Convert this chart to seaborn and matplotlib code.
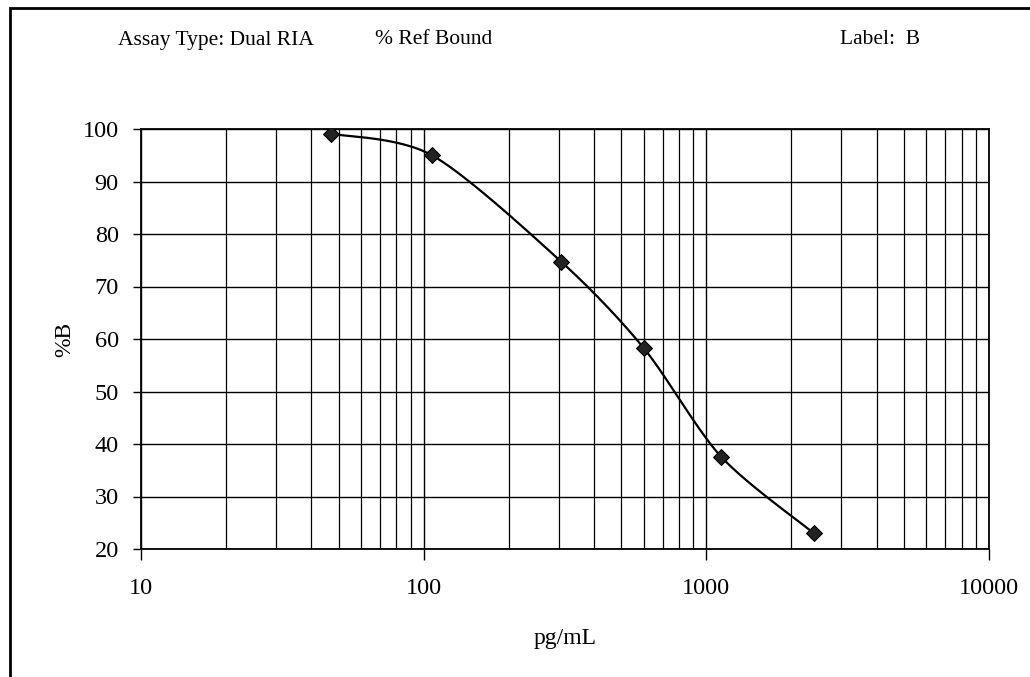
import numpy as np
import pandas as pd
import matplotlib
matplotlib.use("Agg")
import matplotlib.pyplot as plt
from matplotlib.ticker import LogLocator, FixedLocator, NullFormatter, FixedFormatter
from matplotlib.patches import Rectangle
import seaborn as sns

# ---- data ----
conc_pg_ml = [47, 107, 307, 600, 1127, 2400]
pct_bound = [99.1, 95.0, 74.7, 58.3, 37.6, 23.0]
x_tick_values = [10, 100, 1000, 10000]
x_tick_labels = ["10", "100", "1000", "10000"]
y_tick_values = [20, 30, 40, 50, 60, 70, 80, 90, 100]
title_left = "Assay Type: Dual RIA"
title_mid = "% Ref Bound"
title_right = "Label:  B"
x_label = "pg/mL"
y_label = "%B"

sns.set_theme(style="white")
plt.rcParams["font.family"] = ["Liberation Serif", "DejaVu Serif"]

W, H = 1030, 677
fig = plt.figure(figsize=(W / 100, H / 100), dpi=100)
ax = fig.add_axes([141 / W, 1 - 549 / H, (989 - 141) / W, (549 - 129) / H])

# Excel-style smoothed line: cubic Bezier with Catmull-Rom-like control points (log-x space)
lx = np.log10(np.array(conc_pg_ml, dtype=float))
ly = np.array(pct_bound, dtype=float)
P = np.column_stack([lx, ly])
Pe = np.vstack([P[0], P, P[-1]])
curve = []
t = np.linspace(0, 1, 40)[:, None]
k = 1 / 7
for i in range(len(P) - 1):
    p0, p1, p2, p3 = Pe[i], Pe[i + 1], Pe[i + 2], Pe[i + 3]
    c1 = p1 + (p2 - p0) * k
    c2 = p2 - (p3 - p1) * k
    seg = ((1 - t) ** 3) * p1 + 3 * ((1 - t) ** 2) * t * c1 + 3 * (1 - t) * t ** 2 * c2 + t ** 3 * p2
    curve.append(seg if i == 0 else seg[1:])
curve = np.vstack(curve)
smooth = pd.DataFrame({"x": 10 ** curve[:, 0], "y": curve[:, 1]})
pts = pd.DataFrame({"x": conc_pg_ml, "y": pct_bound})

ax.set_xscale("log")
ax.set_xlim(10, 10000)
ax.set_ylim(20, 100)

sns.lineplot(data=smooth, x="x", y="y", ax=ax, color="black", linewidth=1.6,
             sort=False, estimator=None, zorder=3)
sns.scatterplot(data=pts, x="x", y="y", ax=ax, marker="D", s=65, color="#222222",
                edgecolor="black", linewidth=0.8, zorder=4)

# grid
ax.xaxis.set_major_locator(FixedLocator(x_tick_values))
ax.xaxis.set_major_formatter(FixedFormatter(x_tick_labels))
ax.xaxis.set_minor_locator(LogLocator(base=10, subs=np.arange(2, 10)))
ax.xaxis.set_minor_formatter(NullFormatter())
ax.yaxis.set_major_locator(FixedLocator(y_tick_values))
ax.grid(True, which="major", axis="both", color="black", linewidth=1.0)
ax.grid(True, which="minor", axis="x", color="black", linewidth=0.9)
ax.set_axisbelow(True)

for s in ax.spines.values():
    s.set_color("black")
    s.set_linewidth(1.3)
    s.set_visible(True)

ax.tick_params(axis="x", which="major", direction="out", length=8, width=1.0,
               color="black", pad=13, labelsize=17.5, labelcolor="black", bottom=True)
ax.tick_params(axis="x", which="minor", length=0)
ax.tick_params(axis="y", which="major", direction="out", length=6, width=1.0,
               color="black", pad=10, labelsize=17.5, labelcolor="black", left=True)

ax.set_xlabel(x_label, fontsize=17, color="black", labelpad=21)
ax.set_ylabel(y_label, fontsize=17, color="black", labelpad=5)

# header texts
ty = 1 - 40 / H
fig.text(118 / W, ty, title_left, fontsize=15.5, ha="left", va="center", color="black")
fig.text(375 / W, ty, title_mid, fontsize=15.5, ha="left", va="center", color="black")
fig.text(840 / W, ty, title_right, fontsize=15.5, ha="left", va="center", color="black")

# outer frame (left and top edges visible, as in the scan)
fig.patches.append(Rectangle((10 / W, -0.05), 1.2, 1 - 8 / H + 0.05, transform=fig.transFigure,
                             fill=False, edgecolor="black", linewidth=2.0, zorder=0))

fig.savefig("out.png", dpi=100, facecolor="white")
